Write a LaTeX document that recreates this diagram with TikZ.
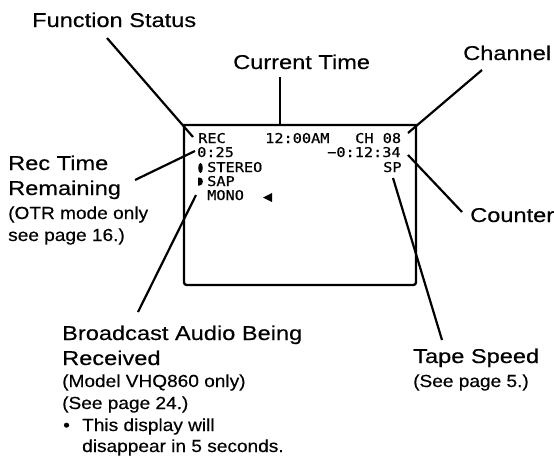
\documentclass[tikz,border=0pt]{standalone}
\usepackage{fontspec}
\setmainfont{Liberation Sans}[FakeStretch=1.18, FakeBold=0.4]
\newfontfamily\subfont{Liberation Sans}[FakeStretch=1.09, FakeBold=0.4]
\newfontfamily\osdfont{DejaVu Sans Mono}[FakeStretch=1.13, FakeBold=0.6]
\tikzset{
  lbl/.style={anchor=base west, inner sep=0pt, font=\fontsize{20}{24}\selectfont},
  sub/.style={anchor=base west, inner sep=0pt, font=\subfont\fontsize{17.5}{20}\selectfont},
  osd/.style={anchor=base west, inner sep=0pt, font=\osdfont\fontsize{13.5}{14}\selectfont},
  lead/.style={line width=2.2pt},
  frame/.style={line width=2.3pt, line join=miter},
}
\begin{document}
\begin{tikzpicture}[x=1pt,y=-1pt]
\useasboundingbox (0,0) rectangle (554,458);
% screen frame
\draw[frame] (416,125) -- (184,125) -- (184,279) .. controls (184,285) .. (190,285)
   -- (410,285) .. controls (416,285) .. (416,279) -- cycle;
% screen texts
\node[osd] (rec) at (198,143) {REC};
\node[osd] (clock) at (265,143) {12:00AM};
\node[osd] (chan) at (355,143) {CH 08};
\node[osd] (remain) at (197,157) {0:25};
\node[osd] (count) at (327,157) {−0:12:34};
\node[osd] (stereo) at (207,172) {STEREO};
\node[osd] (sp) at (383,172) {SP};
\node[osd] (sap) at (207,186) {SAP};
\node[osd] (mono) at (207,200) {MONO};
\fill (200.5,163) .. controls (197.5,163) and (197.5,173) .. (200.5,173)
      .. controls (203.5,173) and (203.5,163) .. (200.5,163) -- cycle;
\fill (198,177.5) -- (199.5,177.5) .. controls (204,177.5) and (204,185.5) .. (199.5,185.5) -- (198,185.5) -- cycle;
\fill (263,197.5) -- (272,193) -- (272,202) -- cycle;
% labels
\node[lbl] (fs) at (32,27) {Function Status};
\node[lbl] (ct) at (233,69) {Current Time};
\node[lbl] (chl) at (463,60) {Channel};
\node[lbl] (col) at (470,222) {Counter};
\node[lbl] (rt1) at (8,170) {Rec Time};
\node[lbl] (rt2) at (8,195) {Remaining};
\node[sub] (rt3) at (8,219) {(OTR mode only};
\node[sub] (rt4) at (8,241) {see page 16.)};
\node[lbl] (ba1) at (62,340) {Broadcast Audio Being};
\node[lbl] (ba2) at (62,365) {Received};
\node[sub] (ba3) at (62,387) {(Model VHQ860 only)};
\node[sub] (ba4) at (62,409) {(See page 24.)};
\node[sub] (bul) at (63,431) {•};
\node[sub] (ba5) at (82,431) {This display will};
\node[sub] (ba6) at (82,452) {disappear in 5 seconds.};
\node[lbl] (ts1) at (413,363) {Tape Speed};
\node[sub] (ts2) at (413,387) {(See page 5.)};
% leader ends
\coordinate (fsA) at (107,38);  \coordinate (fsB) at (193,137);
\coordinate (ctA) at (280,77);  \coordinate (ctB) at (280,125);
\coordinate (chA) at (482,70);  \coordinate (chB) at (408,133);
\coordinate (coA) at (462,212); \coordinate (coB) at (408,155);
\coordinate (tsA) at (442,340); \coordinate (tsB) at (393,178);
\coordinate (rtA) at (135,180); \coordinate (rtB) at (195,151);
\coordinate (baA) at (138,312); \coordinate (baB) at (196,195);
\draw[lead] (fsA) -- (fsB);
\draw[lead] (ctA) -- (ctB);
\draw[lead] (chA) -- (chB);
\draw[lead] (coA) -- (coB);
\draw[lead] (tsA) -- (tsB);
\draw[lead] (rtA) -- (rtB);
\draw[lead] (baA) -- (baB);
\end{tikzpicture}
\end{document}
